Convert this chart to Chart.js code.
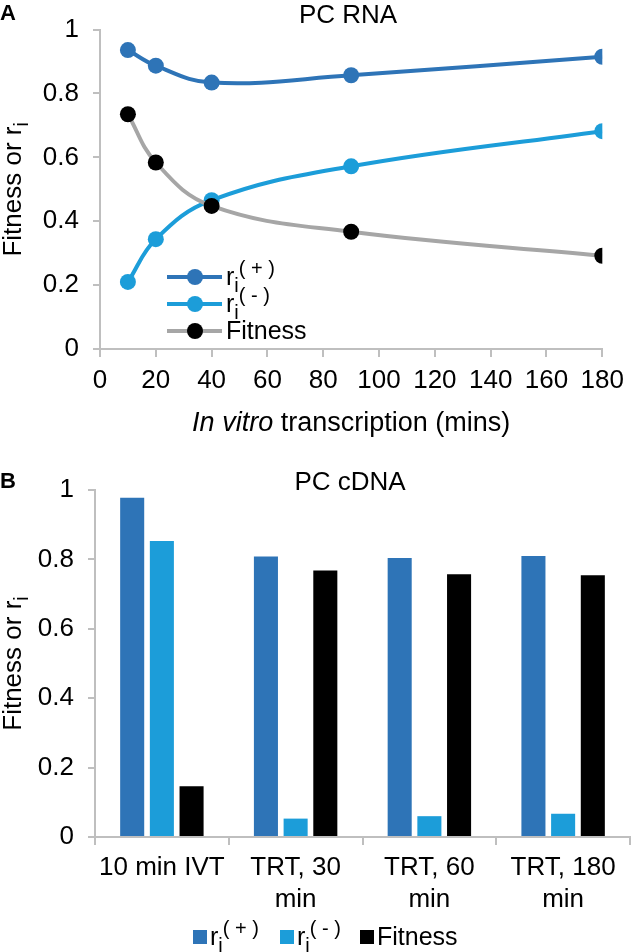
<!DOCTYPE html>
<html>
<head>
<meta charset="utf-8">
<script src="https://cdn.jsdelivr.net/npm/chart.js@4.4.1/dist/chart.umd.min.js"></script>
<style>
  html, body { margin: 0; padding: 0; background: #fff; }
  .panel { position: relative; width: 632px; }
  canvas { display: block; }
</style>
</head>
<body>
<div class="panel" style="height:445px"><canvas id="rna" width="632" height="445"></canvas></div>
<div class="panel" style="height:507px"><canvas id="cdna" width="632" height="507"></canvas></div>
<script>
// panel A: PC RNA, smoothed lines over in vitro transcription time
const minutes = [10, 20, 40, 90, 180];
const rnaPlus = [0.936, 0.887, 0.834, 0.857, 0.915];
const rnaMinus = [0.21, 0.344, 0.466, 0.572, 0.682];
const rnaFitness = [0.735, 0.584, 0.448, 0.367, 0.292];

// panel B: PC cDNA, grouped bars
const conditions = [["10 min IVT"], ["TRT, 30", "min"], ["TRT, 60", "min"], ["TRT, 180", "min"]];
const cdnaPlus = [0.978, 0.808, 0.804, 0.81];
const cdnaMinus = [0.853, 0.053, 0.06, 0.067];
const cdnaFitness = [0.146, 0.768, 0.757, 0.754];

const yTicks = [0, 0.2, 0.4, 0.6, 0.8, 1];

const FONT = '"Liberation Sans", Arial, sans-serif';
const DARK_BLUE = "#2E74B7";
const LIGHT_BLUE = "#1C9DD9";
const GREY = "#A6A6A6";
const AXIS = "#BFBFBF";

// label pieces: [text, style] with style "", "sub", "sup" or "it"
const rPlusLabel = [["r", ""], ["i", "sub"], ["( + )", "sup"]];
const rMinusLabel = [["r", ""], ["i", "sub"], ["( - )", "sup"]];
const fitLabel = [["Fitness", ""]];
const yTitle = [["Fitness or r", ""], ["i", "sub"]];

function fontFor(style, size) {
  if (style === "sub" || style === "sup") return Math.round(size * 0.78) + "px " + FONT;
  if (style === "it") return "italic " + size + "px " + FONT;
  return size + "px " + FONT;
}

function drawRich(ctx, parts, x, y, size, align) {
  const widths = parts.map(p => { ctx.font = fontFor(p[1], size); return ctx.measureText(p[0]).width; });
  const total = widths.reduce((a, b) => a + b, 0);
  let cx = align === "center" ? x - total / 2 : x;
  ctx.textAlign = "left";
  ctx.textBaseline = "alphabetic";
  parts.forEach((p, i) => {
    ctx.font = fontFor(p[1], size);
    let dy = 0;
    if (p[1] === "sub") dy = size * 0.28;
    if (p[1] === "sup") dy = -size * 0.42;
    ctx.fillText(p[0], cx, y + dy);
    cx += widths[i];
  });
}

function yAxis(width) {
  return {
    min: 0, max: 1,
    afterFit: s => { s.width = width; },
    afterBuildTicks: s => { s.ticks = yTicks.map(v => ({ value: v })); },
    ticks: { color: "#000", font: { family: FONT, size: 26 }, padding: 14, callback: v => String(v) },
    grid: { drawOnChartArea: false, drawTicks: true, tickLength: 7, color: AXIS, lineWidth: 2 },
    border: { color: AXIS, width: 2 }
  };
}

const rnaExtras = {
  id: "rnaExtras",
  afterDraw(chart) {
    const ctx = chart.ctx, area = chart.chartArea;
    ctx.save();
    ctx.fillStyle = "#000";
    ctx.font = "bold 22px " + FONT;
    ctx.textAlign = "left";
    ctx.textBaseline = "alphabetic";
    ctx.fillText("A", 0, 20);
    drawRich(ctx, [["PC RNA", ""]], 348, 23, 26, "center");
    drawRich(ctx, [["In vitro", "it"], [" transcription (mins)", ""]], (area.left + area.right) / 2, 431, 27, "center");
    ctx.translate(21, (area.top + area.bottom) / 2);
    ctx.rotate(-Math.PI / 2);
    drawRich(ctx, yTitle, 0, 0, 26, "center");
    ctx.restore();

    // legend inside the plot
    const labels = [rPlusLabel, rMinusLabel, fitLabel];
    const rows = [277, 304, 331];
    chart.data.datasets.forEach((ds, i) => {
      const y = rows[i];
      ctx.save();
      ctx.strokeStyle = ds.borderColor;
      ctx.lineWidth = 4;
      ctx.beginPath();
      ctx.moveTo(167, y);
      ctx.lineTo(222, y);
      ctx.stroke();
      ctx.fillStyle = ds.pointBackgroundColor;
      ctx.beginPath();
      ctx.arc(195, y, 8, 0, Math.PI * 2);
      ctx.fill();
      ctx.fillStyle = "#000";
      drawRich(ctx, labels[i], 226, y + 8, 25, "left");
      ctx.restore();
    });
  }
};

new Chart(document.getElementById("rna"), {
  type: "line",
  data: {
    datasets: [
      { label: "ri(+)", data: minutes.map((m, i) => ({ x: m, y: rnaPlus[i] })), borderColor: DARK_BLUE, pointBackgroundColor: DARK_BLUE, order: 2 },
      { label: "ri(-)", data: minutes.map((m, i) => ({ x: m, y: rnaMinus[i] })), borderColor: LIGHT_BLUE, pointBackgroundColor: LIGHT_BLUE, order: 1 },
      { label: "Fitness", data: minutes.map((m, i) => ({ x: m, y: rnaFitness[i] })), borderColor: GREY, pointBackgroundColor: "#000", order: 0 }
    ]
  },
  options: {
    responsive: false,
    animation: false,
    layout: { padding: { top: 15, right: 22, left: 0, bottom: 0 } },
    elements: {
      line: { borderWidth: 4, tension: 0.4, fill: false },
      point: { radius: 8, borderWidth: 0, hoverRadius: 8 }
    },
    plugins: { legend: { display: false }, tooltip: { enabled: false } },
    scales: {
      x: {
        type: "linear", min: 0, max: 180,
        afterFit: s => { s.height = 96; },
        ticks: { stepSize: 20, color: "#000", font: { family: FONT, size: 26 }, padding: 8, maxRotation: 0 },
        grid: { drawOnChartArea: false, drawTicks: true, tickLength: 8, color: AXIS, lineWidth: 2 },
        border: { color: AXIS, width: 2 }
      },
      y: yAxis(100)
    }
  },
  plugins: [rnaExtras]
});

const cdnaExtras = {
  id: "cdnaExtras",
  afterDraw(chart) {
    const ctx = chart.ctx, area = chart.chartArea;
    ctx.save();
    ctx.fillStyle = "#000";
    ctx.font = "bold 22px " + FONT;
    ctx.textAlign = "left";
    ctx.textBaseline = "alphabetic";
    ctx.fillText("B", 0, 43);
    drawRich(ctx, [["PC cDNA", ""]], 350, 45, 26, "center");
    ctx.translate(21, (area.top + area.bottom) / 2);
    ctx.rotate(-Math.PI / 2);
    drawRich(ctx, yTitle, 0, 0, 26, "center");
    ctx.restore();

    // legend below the axis
    const labels = [rPlusLabel, rMinusLabel, fitLabel];
    const xs = [193, 280, 360];
    const y = 492;
    chart.data.datasets.forEach((ds, i) => {
      ctx.save();
      ctx.fillStyle = ds.backgroundColor;
      ctx.fillRect(xs[i], y - 7, 14, 14);
      ctx.fillStyle = "#000";
      drawRich(ctx, labels[i], xs[i] + 17, y + 8, 25, "left");
      ctx.restore();
    });
  }
};

new Chart(document.getElementById("cdna"), {
  type: "bar",
  data: {
    labels: conditions,
    datasets: [
      { label: "ri(+)", data: cdnaPlus, backgroundColor: DARK_BLUE },
      { label: "ri(-)", data: cdnaMinus, backgroundColor: LIGHT_BLUE },
      { label: "Fitness", data: cdnaFitness, backgroundColor: "#000" }
    ]
  },
  options: {
    responsive: false,
    animation: false,
    layout: { padding: { top: 45, right: 2, left: 0, bottom: 0 } },
    datasets: { bar: { categoryPercentage: 0.666, barPercentage: 0.81, borderWidth: 0 } },
    plugins: { legend: { display: false }, tooltip: { enabled: false } },
    scales: {
      x: {
        afterFit: s => { s.height = 115; },
        ticks: { color: "#000", font: { family: FONT, size: 26, lineHeight: 1.22 }, padding: 7, maxRotation: 0, autoSkip: false },
        grid: { drawOnChartArea: false, drawTicks: true, tickLength: 8, color: AXIS, lineWidth: 2 },
        border: { color: AXIS, width: 2 }
      },
      y: yAxis(95)
    }
  },
  plugins: [cdnaExtras]
});
</script>
</body>
</html>
